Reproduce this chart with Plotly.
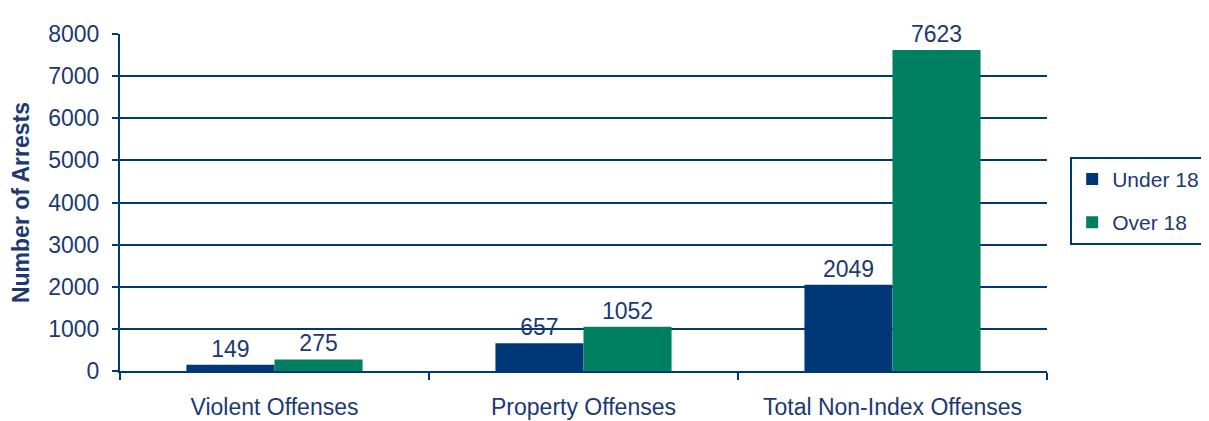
import plotly.graph_objects as go

# Data
categories = ["Violent Offenses", "Property Offenses", "Total Non-Index Offenses"]
under_18 = [149, 657, 2049]
over_18 = [275, 1052, 7623]

NAVY = "#003777"
GREEN = "#008061"
TEXT = "#1b3a72"
FONT = "Liberation Sans, Arial, sans-serif"
FS = 23

fig = go.Figure()
fig.add_trace(
    go.Bar(
        name="Under 18",
        legendgroup="u",
        x=categories,
        y=under_18,
        marker_color=NAVY,
        marker_line_width=0,
        text=under_18,
        textposition="outside",
        textfont=dict(size=FS, color=TEXT),
        cliponaxis=False,
    )
)
fig.add_trace(
    go.Bar(
        name="Over 18",
        legendgroup="o",
        x=categories,
        y=over_18,
        marker_color=GREEN,
        marker_line_width=0,
        text=over_18,
        textposition="outside",
        textfont=dict(size=FS, color=TEXT),
        cliponaxis=False,
    )
)

# page body has an 8px margin, so the figure is a bit smaller than the window
fig.update_layout(
    width=1201,
    height=413,
    barmode="group",
    bargap=0.43,
    bargroupgap=0,
    plot_bgcolor="white",
    paper_bgcolor="white",
    font=dict(family=FONT, size=FS, color=TEXT),
    margin=dict(l=112, r=162, t=26, b=50, autoexpand=False),
    legend=dict(
        x=1.025,
        y=0.505,
        xanchor="left",
        yanchor="middle",
        bordercolor=NAVY,
        borderwidth=2,
        itemwidth=30,
        tracegroupgap=13,
        traceorder="grouped",
        font=dict(size=21, color=TEXT),
    ),
)

fig.update_xaxes(
    showline=True,
    linecolor=NAVY,
    linewidth=2,
    ticks="outside",
    tickson="boundaries",
    ticklen=7,
    tickwidth=2,
    tickcolor=NAVY,
    ticklabelstandoff=14,
    tickfont=dict(size=FS, color=TEXT),
)

fig.update_yaxes(
    range=[0, 8000],
    dtick=1000,
    showline=True,
    linecolor=NAVY,
    linewidth=2,
    ticks="outside",
    ticklen=6,
    tickwidth=2,
    tickcolor=NAVY,
    ticklabelstandoff=8,
    showgrid=True,
    gridcolor=NAVY,
    gridwidth=2,
    zeroline=False,
    tickfont=dict(size=FS, color=TEXT),
    title=dict(
        text="<b>Number of Arrests</b>",
        font=dict(size=23, color=TEXT),
        standoff=12,
    ),
)

fig.write_html("out.html")
